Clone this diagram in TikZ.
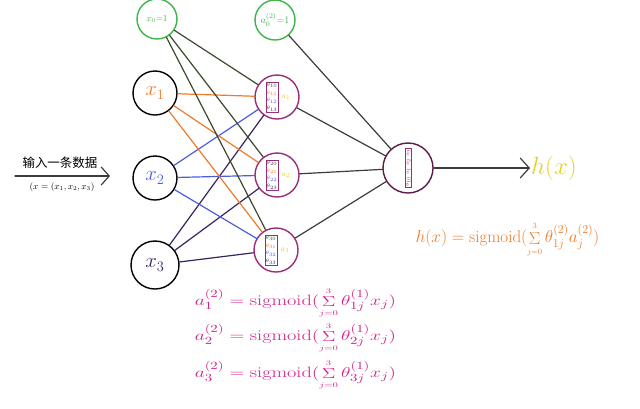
\documentclass[tikz,border=0pt]{standalone}
\usepackage{amsmath}
\usepackage{fontspec}
\newfontfamily\cjk{Noto Sans CJK SC}
\usetikzlibrary{arrows.meta}
\definecolor{ngreen}{HTML}{3DB54A}
\definecolor{norange}{HTML}{F07A2A}
\definecolor{nblue}{HTML}{4A5EE0}
\definecolor{npurple}{HTML}{3A2260}
\definecolor{nolive}{HTML}{3A4A2E}
\definecolor{npink}{HTML}{D4208C}
\definecolor{nplum}{HTML}{9A2D78}
\definecolor{nyellow}{HTML}{E6D21E}
\definecolor{ngray}{HTML}{3C3C3C}
\newcommand{\sumj}{\mathop{\Sigma}\limits_{\scriptscriptstyle j=0}^{\scriptscriptstyle 3}}

\begin{document}
\begin{tikzpicture}[x=1pt,y=-1pt,
    unit/.style={draw, circle, line width=1.4pt, inner sep=0pt, minimum size=44pt},
    biasunit/.style={unit, ngreen, minimum size=40pt},
    hidunit/.style={unit, nplum},
    wbox/.style={draw, nplum, thin, inner sep=0.6pt, font=\fontsize{3.4}{3.8}\selectfont},
    link/.style={line width=1.2pt, line cap=round},
    sumform/.style={anchor=west, xscale=1.35, font=\fontsize{15}{18}\selectfont}]
  \useasboundingbox (0,0) rectangle (640,408);

  % input layer
  \node[biasunit] (x0) at (157,19) {\small$x_0{=}1$};
  \node[unit] (x1) at (155,93) {\fontsize{20}{22}\selectfont\color{norange}$x_1$};
  \node[unit] (x2) at (155,178) {\fontsize{20}{22}\selectfont\color{nblue}$x_2$};
  \node[unit, minimum size=48pt] (x3) at (155,265) {\fontsize{20}{22}\selectfont\color{npurple}$x_3$};

  % hidden layer
  \node[biasunit] (a0) at (275,20) {\normalsize$a_0^{(2)}{=}1$};
  \node[hidunit] (a1) at (277,97) {};
  \node[hidunit] (a2) at (277,175) {};
  \node[hidunit] (a3) at (276,250) {};

  % output layer
  \node[unit, minimum size=50pt, draw=nplum!60!black] (out) at (408,168) {};

  % weights into the hidden units
  \foreach \h in {1,2,3} {
    \draw[link, nolive] (x0) -- (a\h);
    \draw[link, norange] (x1) -- (a\h);
    \draw[link, nblue] (x2) -- (a\h);
    \draw[link, npurple] (x3) -- (a\h);
    \node[wbox] (w\h) at ([xshift=-5pt]a\h.center) {\shortstack{%
      \textcolor{nolive}{$\theta_{\h0}$}\\ \textcolor{norange}{$\theta_{\h1}$}\\
      \textcolor{nblue}{$\theta_{\h2}$}\\ \textcolor{npurple}{$\theta_{\h3}$}}};
    \node[nyellow, inner sep=0pt, font=\footnotesize] at ([xshift=9pt]a\h.center) {$a_{\h}$};
    \draw[link, ngray] (a\h) -- (out);
  }
  \draw[link, ngray] (a0) -- (out);

  % output unit weights
  \node[wbox, rotate=90, text=npink, font=\fontsize{4}{4.5}\selectfont] (wo) at (out.center) {$\theta_{10}\,a_1\,a_2\,a_3$};

  % result
  \coordinate (hx) at (530,168);
  \draw[link, ngray, -{Straight Barb[length=9pt, width=20pt]}] (out) -- (hx);
  \node[nyellow, anchor=west, inner sep=1pt, font=\fontsize{28}{30}\selectfont] (hlab) at (hx) {$h(x)$};

  % input sample
  \coordinate (inA) at (15,176);
  \coordinate (inB) at (110,176);
  \draw[link, ngray, -{Straight Barb[length=8pt, width=18pt]}] (inA) -- (inB);
  \node[font=\cjk\fontsize{12.5}{14}\selectfont, anchor=south] (intext) at (60,172) {输入一条数据};
  \node[font=\small, anchor=north] (insample) at (62,179) {$(x=(x_1,x_2,x_3)$};

  % formulas
  \node[norange, anchor=west, font=\fontsize{17}{20}\selectfont] (hform) at (412,240)
    {$h(x)=\mathrm{sigmoid}(\sumj\theta_{1j}^{(2)}a_j^{(2)})$};
  \node[npink, sumform] (f1) at (190,303)
    {$a_1^{(2)}=\mathrm{sigmoid}(\sumj\theta_{1j}^{(1)}x_j)$};
  \node[npink, sumform] (f2) at (190,338)
    {$a_2^{(2)}=\mathrm{sigmoid}(\sumj\theta_{2j}^{(1)}x_j)$};
  \node[npink, sumform] (f3) at (190,375)
    {$a_3^{(2)}=\mathrm{sigmoid}(\sumj\theta_{3j}^{(1)}x_j)$};
\end{tikzpicture}
\end{document}
